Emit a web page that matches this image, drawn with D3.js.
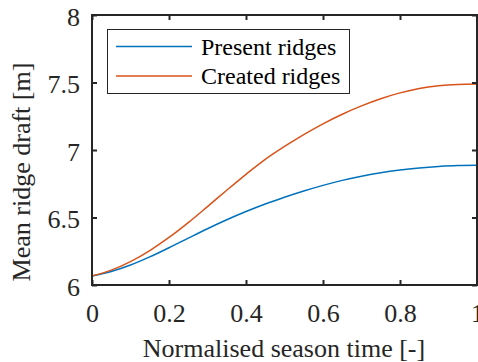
<!DOCTYPE html>
<html>
<head>
<meta charset="utf-8">
<script src="https://cdn.jsdelivr.net/npm/d3@7"></script>
<style>
  html, body { margin: 0; padding: 0; background: #fff; }
  svg { display: block; }
</style>
</head>
<body>
<svg id="chart" width="478" height="362"></svg>
<script>
// Normalised season time samples
const seasonTime = [0, 0.05, 0.1, 0.15, 0.2, 0.25, 0.3, 0.35, 0.4, 0.45, 0.5,
                    0.55, 0.6, 0.65, 0.7, 0.75, 0.8, 0.85, 0.9, 0.95, 1];
// Mean ridge draft [m]
const presentRidges = [6.067, 6.100, 6.148, 6.208, 6.276, 6.347, 6.417, 6.483, 6.544, 6.600, 6.650,
                       6.696, 6.738, 6.775, 6.806, 6.832, 6.852, 6.867, 6.878, 6.885, 6.887];
const createdRidges = [6.067, 6.110, 6.173, 6.255, 6.352, 6.462, 6.581, 6.702, 6.820, 6.931, 7.026,
                       7.114, 7.194, 7.265, 7.327, 7.380, 7.423, 7.456, 7.476, 7.486, 7.489];
const seriesNames = ["Present ridges", "Created ridges"];
const seriesColors = ["#0072BD", "#D95319"];
const xTicks = [0, 0.2, 0.4, 0.6, 0.8, 1];
const yTicks = [6, 6.5, 7, 7.5, 8];

const FONT = '"Liberation Serif", serif';
const svg = d3.select("#chart");
const axisColor = "#262626";
const plotL = 92, plotR = 477, plotT = 15, plotB = 285;

const x = d3.scaleLinear().domain([0, 1]).range([plotL, plotR]);
const y = d3.scaleLinear().domain([6, 8]).range([plotB, plotT]);

// Curves
const line = d3.line()
  .x(d => x(d[0]))
  .y(d => y(d[1]))
  .curve(d3.curveMonotoneX);

[presentRidges, createdRidges].forEach((vals, i) => {
  svg.append("path")
    .datum(seasonTime.map((t, k) => [t, vals[k]]))
    .attr("d", line)
    .attr("fill", "none")
    .attr("stroke", seriesColors[i])
    .attr("stroke-width", 1.5);
});

// Axes with inward ticks, boxed
const tickFont = 26;
const xAxis = d3.axisBottom(x).tickValues(xTicks).tickSizeInner(-5).tickSizeOuter(0)
  .tickFormat(d3.format("~g")).tickPadding(18.5);
const yAxis = d3.axisLeft(y).tickValues(yTicks).tickSizeInner(-5).tickSizeOuter(0)
  .tickFormat(d3.format("~g")).tickPadding(12);
const xAxisTop = d3.axisTop(x).tickValues(xTicks).tickSizeInner(-5).tickSizeOuter(0).tickFormat("");
const yAxisRight = d3.axisRight(y).tickValues(yTicks).tickSizeInner(-5).tickSizeOuter(0).tickFormat("");

function style(g) {
  g.attr("font-family", FONT).attr("font-size", tickFont);
  g.select(".domain").remove();
  g.selectAll(".tick line").attr("stroke", axisColor).attr("stroke-width", 2);
  g.selectAll(".tick text")
    .style("font-family", FONT)
    .style("font-size", tickFont + "px")
    .attr("fill", axisColor);
}

svg.append("g").attr("transform", `translate(0,${plotB})`).call(xAxis).call(style);
svg.append("g").attr("transform", `translate(${plotL},0)`).call(yAxis).call(style)
  .selectAll(".tick text").attr("dy", "0.4em");
svg.append("g").attr("transform", `translate(0,${plotT})`).call(xAxisTop).call(style);
svg.append("g").attr("transform", `translate(${plotR},0)`).call(yAxisRight).call(style);

svg.append("rect")
  .attr("x", plotL).attr("y", plotT)
  .attr("width", plotR - plotL).attr("height", plotB - plotT)
  .attr("fill", "none")
  .attr("stroke", axisColor)
  .attr("stroke-width", 2);

// Axis titles
svg.append("text")
  .attr("x", 284)
  .attr("y", 356.5)
  .attr("text-anchor", "middle")
  .attr("fill", axisColor)
  .style("font-family", FONT)
  .style("font-size", "26px")
  .text("Normalised season time [-]");

svg.append("text")
  .attr("transform", "translate(30,172) rotate(-90)")
  .attr("text-anchor", "middle")
  .attr("fill", axisColor)
  .style("font-family", FONT)
  .style("font-size", "26px")
  .text("Mean ridge draft [m]");

// Legend
const legend = svg.append("g");
legend.append("rect")
  .attr("x", 107.5).attr("y", 29.5)
  .attr("width", 242).attr("height", 64)
  .attr("fill", "#fff")
  .attr("stroke", axisColor)
  .attr("stroke-width", 1);

seriesNames.forEach((name, i) => {
  const ly = 46.5 + i * 29.5;
  legend.append("line")
    .attr("x1", 116).attr("x2", 192)
    .attr("y1", ly).attr("y2", ly)
    .attr("stroke", seriesColors[i])
    .attr("stroke-width", 1.5);
  legend.append("text")
    .attr("x", 201)
    .attr("y", ly + 8.3)
    .attr("fill", "#000")
    .style("font-family", FONT)
    .style("font-size", "24px")
    .text(name);
});
</script>
</body>
</html>
